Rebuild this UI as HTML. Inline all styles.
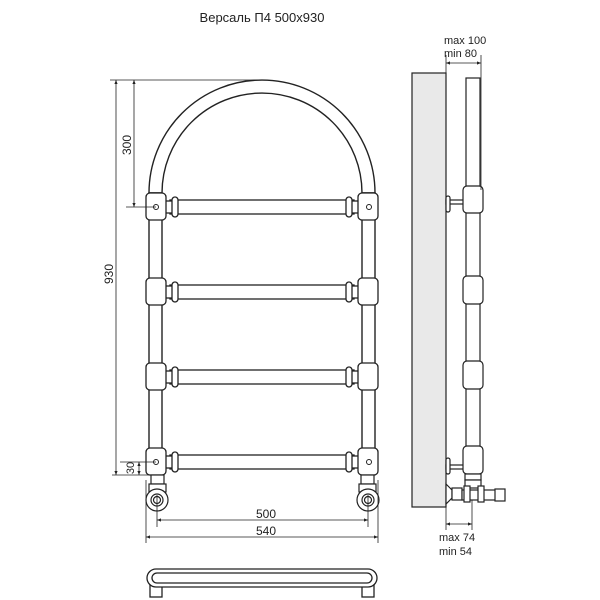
<!DOCTYPE html>
<html><head><meta charset="utf-8"><style>
html,body{margin:0;padding:0;background:#fff;}
svg{display:block;}
text{font-family:"Liberation Sans","Noto Sans CJK SC",sans-serif;fill:#222;}
</style></head><body>
<svg width="600" height="600" viewBox="0 0 600 600" xmlns="http://www.w3.org/2000/svg">
<defs>
<marker id="a" viewBox="0 0 10 10" refX="10" refY="5" markerWidth="5" markerHeight="5" orient="auto-start-reverse"><path d="M0,1 L10,5 L0,9 z" fill="#222"/></marker>
</defs>
<text x="262" y="22" font-size="13" text-anchor="middle">Версаль П4 500x930</text>

<g fill="#fff" stroke="#222" stroke-width="1.4">
<path d="M149,193 A113,113 0 0 1 375,193 L362,193 A100,100 0 0 0 162,193 Z"/>
<rect x="149" y="193" width="13" height="280"/>
<rect x="362" y="193" width="13" height="280"/>
</g>

<g fill="#fff" stroke="#222" stroke-width="1.3">
<g id="row">
<rect x="170" y="200" width="184" height="14"/>
<rect x="163" y="201" width="10" height="12"/>
<rect x="351" y="201" width="10" height="12"/>
<rect x="172" y="197" width="6" height="20" rx="3"/>
<rect x="346" y="197" width="6" height="20" rx="3"/>
<rect x="146" y="193" width="20" height="27" rx="4"/>
<rect x="358" y="193" width="20" height="27" rx="4"/>
</g>
<use href="#row" y="85"/>
<use href="#row" y="170"/>
<use href="#row" y="255"/>
</g>
<g fill="#fff" stroke="#222" stroke-width="1">
<circle cx="156" cy="207" r="2.5"/><circle cx="369" cy="207" r="2.5"/>
<circle cx="156" cy="462" r="2.5"/><circle cx="369" cy="462" r="2.5"/>
</g>

<g fill="#fff" stroke="#222" stroke-width="1.2">
<rect x="151" y="475" width="13" height="9"/>
<rect x="149" y="484" width="17" height="8"/>
<circle cx="157" cy="500" r="11"/>
<circle cx="157" cy="500" r="6"/><circle cx="157" cy="500" r="3.5"/>
<rect x="361" y="475" width="13" height="9"/>
<rect x="359" y="484" width="17" height="8"/>
<circle cx="368" cy="500" r="11"/>
<circle cx="368" cy="500" r="6"/><circle cx="368" cy="500" r="3.5"/>
</g>

<g stroke="#222" stroke-width="0.8" fill="none">
<line x1="110" y1="80" x2="262" y2="80"/>
<line x1="116" y1="80" x2="116" y2="475" marker-start="url(#a)" marker-end="url(#a)"/>
<line x1="134" y1="80" x2="134" y2="207" marker-start="url(#a)" marker-end="url(#a)"/>
<line x1="126" y1="207" x2="156" y2="207"/>
<line x1="112" y1="475" x2="150" y2="475"/>
<line x1="120" y1="462" x2="156" y2="462"/>
<line x1="139" y1="462" x2="139" y2="475" marker-start="url(#a)" marker-end="url(#a)"/>
<line x1="157" y1="495" x2="157" y2="527"/>
<line x1="368" y1="495" x2="368" y2="527"/>
<line x1="157" y1="520" x2="368" y2="520" marker-start="url(#a)" marker-end="url(#a)"/>
<line x1="146" y1="480" x2="146" y2="543"/>
<line x1="378" y1="480" x2="378" y2="543"/>
<line x1="146" y1="537" x2="378" y2="537" marker-start="url(#a)" marker-end="url(#a)"/>
</g>
<text font-size="12" text-anchor="middle" transform="translate(131,145) rotate(-90)">300</text>
<text font-size="12" text-anchor="middle" transform="translate(113,274) rotate(-90)">930</text>
<text font-size="11" text-anchor="middle" transform="translate(134,468) rotate(-90)">30</text>
<text x="266" y="518" font-size="12" text-anchor="middle">500</text>
<text x="266" y="535" font-size="12" text-anchor="middle">540</text>

<g fill="#fff" stroke="#222" stroke-width="1.3">
<rect x="150" y="584" width="12" height="13"/>
<rect x="362" y="584" width="12" height="13"/>
<rect x="147" y="569" width="230" height="18" rx="9"/>
<line x1="157" y1="573" x2="367" y2="573"/>
<line x1="157" y1="583" x2="367" y2="583"/>
<path d="M157,573 A5,5 0 0 0 157,583"/>
<path d="M367,573 A5,5 0 0 1 367,583"/>
</g>

<rect x="412" y="73" width="34" height="434" fill="#e9e9e9" stroke="#222" stroke-width="1.2"/>
<g fill="#fff" stroke="#222" stroke-width="1.2">
<rect x="466" y="78" width="14" height="400"/>
<rect x="446" y="200" width="18" height="4"/>
<rect x="446" y="196" width="4" height="16" rx="2"/>
<rect x="446" y="465" width="18" height="4"/>
<rect x="446" y="458" width="4" height="16" rx="2"/>
<rect x="463" y="186" width="20" height="27" rx="4"/>
<rect x="463" y="276" width="20" height="28" rx="4"/>
<rect x="463" y="361" width="20" height="28" rx="4"/>
<rect x="463" y="446" width="20" height="28" rx="4"/>
<rect x="465" y="474" width="16" height="6"/>
<rect x="465" y="480" width="16" height="8"/>
<path d="M446,484 L452,490 L452,498 L446,504 Z"/>
<rect x="452" y="488" width="10" height="12"/>
<rect x="462" y="490" width="34" height="10"/>
<rect x="495" y="489" width="10" height="12"/>
<rect x="464" y="486" width="6" height="16"/>
<rect x="478" y="486" width="6" height="16"/>
</g>
<g stroke="#222" stroke-width="0.8" fill="none">
<line x1="446" y1="55" x2="446" y2="73"/>
<line x1="481" y1="55" x2="481" y2="190"/>
<line x1="446" y1="63" x2="481" y2="63" marker-start="url(#a)" marker-end="url(#a)"/>
<line x1="446" y1="504" x2="446" y2="530"/>
<line x1="472" y1="500" x2="472" y2="530"/>
<line x1="446" y1="524" x2="472" y2="524" marker-start="url(#a)" marker-end="url(#a)"/>
</g>
<text x="444" y="44" font-size="11">max 100</text>
<text x="444" y="57" font-size="11">min 80</text>
<text x="439" y="541" font-size="11">max 74</text>
<text x="439" y="555" font-size="11">min 54</text>
</svg>
</body></html>
